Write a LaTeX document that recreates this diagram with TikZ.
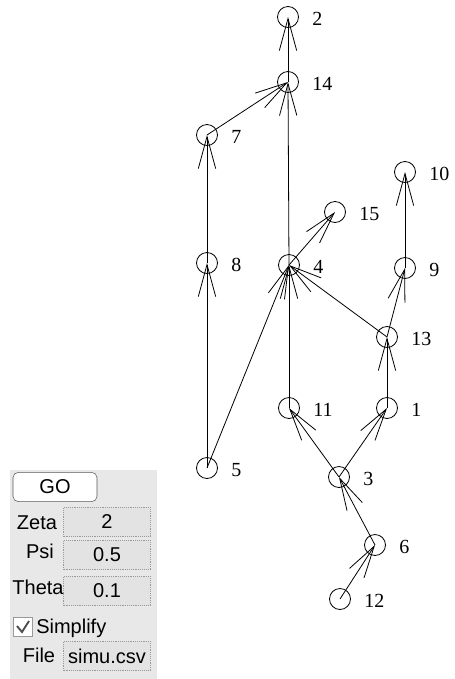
\documentclass[tikz,border=0pt]{standalone}
\usepackage{fontspec}
\setmainfont{Liberation Serif}
\newfontfamily\panelfont{Liberation Sans}
\usetikzlibrary{arrows.meta}
\begin{document}
\begin{tikzpicture}[x=0.75pt,y=-0.75pt,
  vtx/.style={circle,draw,minimum size=15.75pt,inner sep=0pt,line width=0.6pt},
  lbl/.style={anchor=west,inner sep=0pt,font=\fontsize{15}{17}\selectfont},
  edge/.style={line width=0.6pt,-{Straight Barb[length=24pt,width=13pt,line width=0.6pt]}},
  field/.style={draw=gray!80,densely dotted,fill=gray!22,minimum width=65pt,minimum height=22pt,inner sep=0pt,font=\panelfont\fontsize{15}{17}\selectfont},
  plbl/.style={inner sep=0pt,font=\panelfont\fontsize{15}{17}\selectfont}]
\useasboundingbox (0,0) rectangle (454,679);
% nodes
\foreach \n/\x/\y in {2/288/17,14/288/82,7/207/135,8/207/263,4/289/265,15/335/212,10/405/172,9/405/268,13/387/337,11/289/408,1/387/408,5/207/468,3/339/477,6/375/545,12/340/599}{
  \node[vtx] (n\n) at (\x,\y) {};
  \node[lbl] (l\n) at (\x+24,\y+2) {\n};
}
% edges
\foreach \a/\b in {14/2,7/14,4/14,8/7,5/8,5/4,4/15,9/10,13/9,13/4,11/4,1/13,3/11,3/1,6/3,12/6}{
  \draw[edge] (n\a.center) -- (n\b.center);
}
% panel
\fill[gray!18] (10,470) rectangle (157,679);
\node[draw=gray!70!black,fill=white,rounded corners=4pt,minimum width=63pt,minimum height=22pt,inner sep=0pt,font=\panelfont\fontsize{15}{17}\selectfont] (go) at (55,487) {GO};
\node[field] (fz) at (107,522) {2};
\node[field] (fp) at (107,555) {0.5};
\node[field] (ft) at (107,591) {0.1};
\node[field] (ff) at (107,656) {simu.csv};
\node[plbl] (tz) at (37,523) {Zeta};
\node[plbl] (tp) at (40,551) {Psi};
\node[plbl] (tt) at (38,587) {Theta};
\node[plbl] (tf) at (39,655) {File};
\node[draw=gray!80,fill=white,minimum size=14pt,inner sep=0pt] (cb) at (23,627) {};
\draw[gray!60!black,line width=1.4pt] (17,626) -- (22,632) -- (29,621);
\node[plbl,anchor=west] (ts) at (36,628) {Simplify};
\end{tikzpicture}
\end{document}
